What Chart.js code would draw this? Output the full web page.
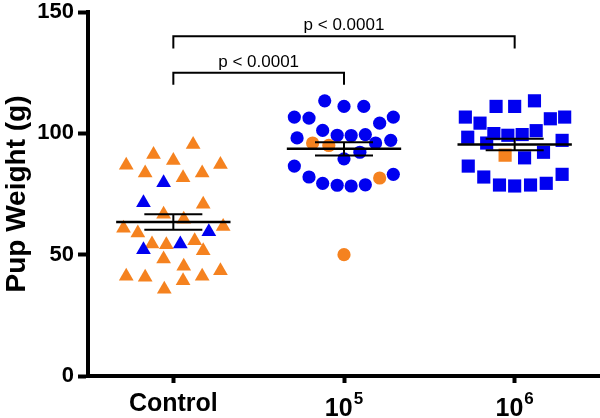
<!DOCTYPE html>
<html>
<head>
<meta charset="utf-8">
<script src="https://cdn.jsdelivr.net/npm/chart.js@4.4.0/dist/chart.umd.min.js"></script>
<style>
  html, body { margin: 0; padding: 0; background: #fff; }
</style>
</head>
<body>
<canvas id="pupChart" width="600" height="418"></canvas>
<script>
// x labels: base text and superscript exponent
const groupBase = ['Control', '10', '10']
const groupExp = ['', '5', '6']
const yTicks = [0, 50, 100, 150]

// Control (triangles)
const ctrlOrangeX = [0.116, -0.116, 0, -0.276, 0.276, -0.165, 0.169, 0.057, 0.175, -0.057, 0.061, -0.292, 0.292, -0.208, -0.125, -0.041, 0.125, 0.175, -0.057, 0.061, -0.276, -0.165, 0.169, 0.276, 0.057, -0.053]
const ctrlOrangeY = [95.4, 91.3, 88.8, 86.8, 87.2, 83.7, 83.7, 81.7, 70.8, 66.7, 64.6, 60.9, 61.6, 58.9, 54.4, 54.1, 55.7, 51.6, 48.2, 45.2, 41.1, 40.7, 41.1, 43.4, 39.3, 35.7]
const ctrlBlueX = [-0.057, -0.175, 0.208, 0.041, -0.175]
const ctrlBlueY = [79.6, 71.4, 59.4, 54.4, 52.0]

// 10^5 (circles)
const g5BlueX = [-0.113, 0, 0.116, -0.291, -0.205, 0.289, 0.209, -0.125, -0.275, -0.04, 0.042, 0.125, 0.274, 0.185, 0.093, 0, -0.291, -0.205, -0.125, -0.04, 0.042, 0.125, 0.289]
const g5BlueY = [113.4, 111.1, 111.1, 106.7, 106.3, 106.7, 104.2, 101.2, 98.1, 99.2, 99.1, 99.5, 97.1, 96.0, 92.2, 89.5, 86.5, 82.0, 79.4, 78.6, 78.3, 78.8, 83.1]
const g5OrangeX = [-0.184, -0.089, 0.209, 0]
const g5OrangeY = [96.0, 95.0, 81.6, 50.0]

// 10^6 (squares)
const g6BlueX = [-0.109, 0, 0.116, -0.289, -0.203, 0.209, 0.293, -0.275, -0.122, -0.04, 0.044, 0.126, 0.278, -0.164, 0.169, 0.058, -0.272, -0.181, -0.089, 0, 0.093, 0.185, 0.278]
const g6BlueY = [111.1, 111.1, 113.4, 106.7, 104.2, 106.0, 106.7, 98.4, 99.9, 99.2, 99.5, 101.1, 97.1, 96.0, 92.2, 89.9, 86.5, 82.0, 78.7, 78.3, 78.7, 79.4, 83.1]
const g6OrangeX = [-0.056]
const g6OrangeY = [91.0]

// mean +/- SEM per group
const means = [63.5, 93.6, 95.4]
const sems = [3.2, 2.7, 2.4]

// significance brackets: from group, to group, bar level, drop level, label
const brackets = [
    { from: 0, to: 2, level: 140, drop: 135, label: 'p < 0.0001' },
    { from: 0, to: 1, level: 125, drop: 120, label: 'p < 0.0001' }
]

const ORANGE = '#f5821f'
const BLUE = '#0000f0'
const FONT = '"Liberation Sans", Arial, sans-serif'

const pts = (group, xs, ys) => xs.map((dx, i) => ({ x: group + dx, y: ys[i] }))

const makeSet = (data, color, style, radius) => ({
    data: data,
    pointStyle: style,
    pointRadius: radius,
    pointBackgroundColor: color,
    pointBorderColor: color,
    pointBorderWidth: 0,
    showLine: false
})

const noPad = scale => {
    scale.paddingTop = 0
    scale.paddingBottom = 0
    scale.paddingLeft = 0
    scale.paddingRight = 0
}

// mean line, SEM bar, brackets and category labels drawn through the chart scales
const overlay = {
    id: 'overlay',
    afterDatasetsDraw(chart) {
        const ctx = chart.ctx
        const xs = chart.scales.x
        const ys = chart.scales.y
        ctx.save()
        ctx.strokeStyle = '#000'
        ctx.lineCap = 'butt'
        means.forEach((m, g) => {
            const yM = ys.getPixelForValue(m)
            const yHi = ys.getPixelForValue(m + sems[g])
            const yLo = ys.getPixelForValue(m - sems[g])
            ctx.lineWidth = 2.5
            ctx.beginPath()
            ctx.moveTo(xs.getPixelForValue(g - 0.335), yM)
            ctx.lineTo(xs.getPixelForValue(g + 0.335), yM)
            ctx.stroke()
            ctx.lineWidth = 2
            ctx.beginPath()
            ctx.moveTo(xs.getPixelForValue(g - 0.17), yHi)
            ctx.lineTo(xs.getPixelForValue(g + 0.17), yHi)
            ctx.moveTo(xs.getPixelForValue(g - 0.17), yLo)
            ctx.lineTo(xs.getPixelForValue(g + 0.17), yLo)
            ctx.moveTo(xs.getPixelForValue(g), yHi)
            ctx.lineTo(xs.getPixelForValue(g), yLo)
            ctx.stroke()
        })

        ctx.lineWidth = 2
        ctx.font = '17px ' + FONT
        ctx.fillStyle = '#000'
        ctx.textAlign = 'center'
        ctx.textBaseline = 'alphabetic'
        brackets.forEach(b => {
            const x1 = xs.getPixelForValue(b.from)
            const x2 = xs.getPixelForValue(b.to)
            const yL = ys.getPixelForValue(b.level)
            const yD = ys.getPixelForValue(b.drop)
            ctx.beginPath()
            ctx.moveTo(x1, yD)
            ctx.lineTo(x1, yL)
            ctx.lineTo(x2, yL)
            ctx.lineTo(x2, yD)
            ctx.stroke()
            ctx.fillText(b.label, (x1 + x2) / 2, yL - 6)
        })

        // category labels with superscript exponents
        groupBase.forEach((base, g) => {
            const cx = xs.getPixelForValue(g)
            const exp = groupExp[g]
            ctx.font = 'bold 25px ' + FONT
            const wBase = ctx.measureText(base).width
            ctx.font = 'bold 17px ' + FONT
            const wExp = exp ? ctx.measureText(exp).width + 1 : 0
            const left = cx - (wBase + wExp) / 2
            const baseY = exp ? xs.bottom - 2 : xs.bottom - 7
            ctx.textAlign = 'left'
            ctx.font = 'bold 25px ' + FONT
            ctx.fillText(base, left, baseY)
            if (exp) {
                ctx.font = 'bold 17px ' + FONT
                ctx.fillText(exp, left + wBase + 1, baseY - 12)
            }
        })
        ctx.restore()
    }
}

const ctx = document.getElementById('pupChart').getContext('2d')
const pupChart = new Chart(ctx, {
    type: 'scatter',
    data: {
        datasets: [
            makeSet(pts(0, ctrlBlueX, ctrlBlueY), BLUE, 'triangle', 8.5),
            makeSet(pts(0, ctrlOrangeX, ctrlOrangeY), ORANGE, 'triangle', 8.5),
            makeSet(pts(1, g5OrangeX, g5OrangeY), ORANGE, 'circle', 6.6),
            makeSet(pts(1, g5BlueX, g5BlueY), BLUE, 'circle', 6.6),
            makeSet(pts(2, g6OrangeX, g6OrangeY), ORANGE, 'rect', 9.3),
            makeSet(pts(2, g6BlueX, g6BlueY), BLUE, 'rect', 9.3)
        ]
    },
    options: {
        responsive: false,
        animation: false,
        layout: { autoPadding: false, padding: { top: 12, right: 0, left: 0, bottom: 0 } },
        plugins: {
            legend: { display: false },
            tooltip: { enabled: false }
        },
        scales: {
            x: {
                type: 'linear',
                min: -0.5,
                max: 2.5,
                afterBuildTicks: scale => {
                    scale.ticks = groupBase.map((g, i) => ({ value: i }))
                },
                afterFit: scale => {
                    scale.height = 42
                    noPad(scale)
                },
                ticks: {
                    callback: () => '',
                    color: '#000'
                },
                grid: {
                    drawOnChartArea: false,
                    drawTicks: true,
                    tickLength: 7,
                    tickWidth: 4,
                    tickColor: '#000'
                },
                border: { display: true, color: '#000', width: 4 }
            },
            y: {
                min: 0,
                max: 150,
                afterBuildTicks: scale => {
                    scale.ticks = yTicks.map(v => ({ value: v }))
                },
                afterFit: scale => {
                    scale.width = 88
                    noPad(scale)
                },
                ticks: {
                    color: '#000',
                    padding: 4,
                    font: { family: FONT, size: 22, weight: 'bold' }
                },
                grid: {
                    drawOnChartArea: false,
                    drawTicks: true,
                    tickLength: 10,
                    tickWidth: 4,
                    tickColor: '#000'
                },
                border: { display: true, color: '#000', width: 4 },
                title: {
                    display: true,
                    text: 'Pup Weight (g)',
                    color: '#000',
                    padding: { top: 0, bottom: 0 },
                    font: { family: FONT, size: 28, weight: 'bold' }
                }
            }
        }
    },
    plugins: [overlay]
})
</script>
</body>
</html>
